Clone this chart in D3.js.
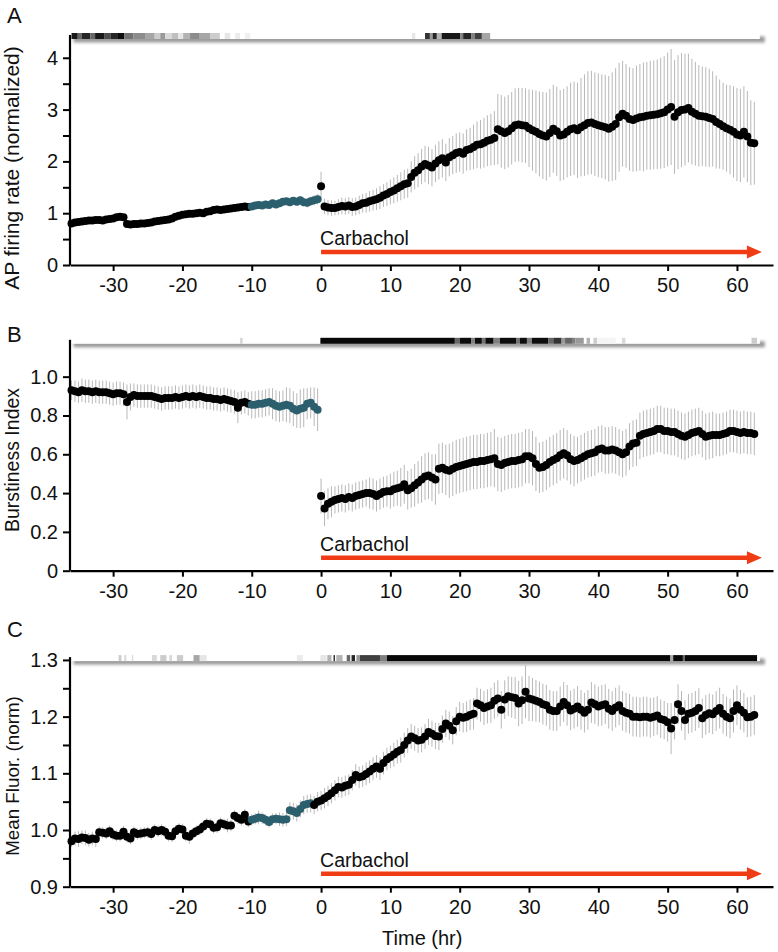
<!DOCTYPE html>
<html><head><meta charset="utf-8">
<script src="https://cdn.jsdelivr.net/npm/d3@7"></script>
<style>
body{margin:0;background:#fff}
svg{display:block}
text{font-family:"Liberation Sans",Arial,Helvetica,sans-serif;fill:#111}
</style>
</head><body>
<svg id="chart" width="778" height="952"></svg>
<script>
// ---------------- DATA ----------------
const timeStart = -36, timeStep = 0.5;   // hours, one sample per 30 min

const firingRate = [
0.80,0.82,0.83,0.84,0.85,0.86,0.86,0.87,0.87,0.86,
0.88,0.89,0.90,0.92,0.93,0.92,0.79,0.78,0.79,0.79,
0.80,0.80,0.81,0.82,0.84,0.85,0.86,0.87,0.88,0.90,
0.93,0.95,0.97,0.98,0.99,0.99,1.00,1.01,1.00,1.03,
1.04,1.06,1.07,1.06,1.07,1.08,1.09,1.10,1.11,1.12,
1.13,1.12,1.13,1.15,1.16,1.15,1.17,1.16,1.19,1.17,
1.19,1.22,1.23,1.21,1.24,1.22,1.25,1.21,1.20,1.23,
1.25,1.27,1.52,1.13,1.11,1.10,1.10,1.12,1.14,1.13,
1.15,1.12,1.13,1.16,1.19,1.20,1.23,1.25,1.27,1.30,
1.34,1.37,1.41,1.44,1.48,1.52,1.56,1.58,1.70,1.78,
1.83,1.90,1.95,1.92,1.88,1.96,2.02,2.06,1.98,2.08,
2.12,2.16,2.18,2.15,2.22,2.24,2.28,2.32,2.33,2.36,
2.40,2.42,2.45,2.62,2.58,2.55,2.58,2.64,2.70,2.71,
2.70,2.69,2.64,2.60,2.57,2.53,2.50,2.48,2.55,2.63,
2.58,2.50,2.52,2.57,2.62,2.64,2.60,2.66,2.70,2.74,
2.75,2.72,2.70,2.68,2.66,2.63,2.67,2.72,2.85,2.92,
2.88,2.82,2.80,2.83,2.85,2.86,2.88,2.89,2.90,2.91,
2.93,2.95,3.00,3.05,2.86,2.95,2.99,3.00,3.03,2.96,
2.92,2.88,2.87,2.86,2.84,2.82,2.76,2.72,2.68,2.64,
2.61,2.57,2.52,2.50,2.57,2.48,2.36,2.35];
const firingErr = [
0.02,0.02,0.02,0.02,0.02,0.02,0.02,0.02,0.02,0.02,
0.02,0.02,0.02,0.02,0.02,0.02,0.02,0.02,0.02,0.02,
0.02,0.02,0.02,0.02,0.02,0.02,0.02,0.02,0.02,0.02,
0.02,0.02,0.02,0.02,0.02,0.02,0.02,0.02,0.02,0.02,
0.02,0.02,0.02,0.02,0.02,0.02,0.02,0.02,0.02,0.02,
0.02,0.02,0.03,0.03,0.03,0.03,0.04,0.04,0.04,0.04,
0.05,0.05,0.05,0.06,0.06,0.07,0.08,0.08,0.09,0.09,
0.10,0.10,0.28,0.15,0.15,0.15,0.14,0.15,0.16,0.16,
0.16,0.17,0.17,0.18,0.18,0.19,0.20,0.20,0.21,0.22,
0.22,0.23,0.24,0.25,0.26,0.27,0.28,0.28,0.30,0.32,
0.33,0.34,0.35,0.36,0.36,0.36,0.37,0.37,0.36,0.37,
0.37,0.38,0.38,0.39,0.40,0.41,0.43,0.45,0.47,0.48,
0.49,0.50,0.52,0.68,0.70,0.70,0.70,0.70,0.71,0.71,
0.72,0.72,0.75,0.78,0.80,0.82,0.84,0.85,0.85,0.85,
0.86,0.88,0.88,0.88,0.90,0.90,0.92,0.95,0.98,1.00,
1.00,1.00,1.00,1.00,1.01,1.02,1.05,1.08,1.05,1.02,
1.00,1.00,1.00,1.02,1.03,1.05,1.04,1.05,1.05,1.06,
1.07,1.08,1.10,1.12,1.10,1.10,1.10,1.08,1.05,1.02,
1.00,0.98,0.96,0.96,0.95,0.92,0.90,0.86,0.84,0.84,
0.86,0.88,0.90,0.90,0.88,0.88,0.82,0.80];

const burstIndex = [
0.93,0.925,0.92,0.93,0.925,0.925,0.92,0.925,0.92,0.92,
0.92,0.915,0.91,0.915,0.915,0.91,0.87,0.895,0.905,0.90,
0.90,0.90,0.90,0.90,0.895,0.89,0.885,0.89,0.89,0.89,
0.895,0.89,0.895,0.90,0.895,0.90,0.895,0.90,0.895,0.89,
0.89,0.885,0.885,0.88,0.885,0.88,0.875,0.87,0.84,0.865,
0.87,0.86,0.855,0.855,0.86,0.86,0.865,0.87,0.86,0.85,
0.845,0.85,0.855,0.85,0.835,0.825,0.835,0.84,0.86,0.865,
0.845,0.83,0.385,0.32,0.345,0.355,0.365,0.37,0.375,0.37,
0.38,0.375,0.385,0.39,0.395,0.40,0.40,0.395,0.385,0.395,
0.405,0.41,0.41,0.42,0.425,0.43,0.445,0.415,0.425,0.44,
0.455,0.47,0.485,0.49,0.48,0.47,0.525,0.53,0.52,0.515,
0.525,0.535,0.54,0.545,0.55,0.555,0.56,0.56,0.565,0.565,
0.57,0.575,0.58,0.55,0.545,0.555,0.56,0.565,0.565,0.57,
0.575,0.59,0.59,0.58,0.55,0.53,0.535,0.545,0.56,0.57,
0.58,0.595,0.605,0.595,0.575,0.565,0.57,0.58,0.59,0.60,
0.605,0.61,0.625,0.63,0.62,0.62,0.625,0.62,0.61,0.60,
0.61,0.64,0.655,0.66,0.695,0.705,0.71,0.715,0.72,0.73,
0.73,0.72,0.72,0.715,0.715,0.705,0.695,0.69,0.70,0.71,
0.715,0.72,0.705,0.69,0.695,0.70,0.70,0.70,0.705,0.71,
0.72,0.72,0.715,0.71,0.715,0.71,0.71,0.705];
const burstErr = [
0.05,0.055,0.055,0.06,0.06,0.06,0.06,0.06,0.06,0.06,
0.06,0.06,0.06,0.06,0.06,0.06,0.09,0.07,0.06,0.06,
0.06,0.06,0.06,0.06,0.06,0.06,0.06,0.06,0.06,0.06,
0.06,0.06,0.06,0.06,0.06,0.06,0.06,0.06,0.06,0.06,
0.06,0.06,0.06,0.06,0.06,0.06,0.06,0.06,0.08,0.06,
0.06,0.06,0.07,0.07,0.07,0.07,0.07,0.07,0.08,0.08,
0.08,0.08,0.09,0.09,0.09,0.09,0.10,0.10,0.08,0.08,
0.10,0.11,0.09,0.09,0.08,0.08,0.07,0.07,0.07,0.07,
0.07,0.07,0.07,0.07,0.07,0.07,0.08,0.08,0.08,0.08,
0.08,0.08,0.09,0.09,0.09,0.10,0.10,0.10,0.10,0.11,
0.11,0.12,0.12,0.12,0.12,0.13,0.13,0.13,0.13,0.14,
0.14,0.14,0.14,0.14,0.14,0.14,0.14,0.14,0.14,0.14,
0.14,0.14,0.15,0.14,0.14,0.14,0.14,0.14,0.14,0.14,
0.14,0.14,0.14,0.14,0.14,0.13,0.13,0.13,0.13,0.13,
0.13,0.13,0.13,0.13,0.13,0.13,0.12,0.12,0.12,0.12,
0.12,0.12,0.12,0.12,0.12,0.12,0.12,0.12,0.12,0.12,
0.12,0.12,0.12,0.12,0.12,0.12,0.12,0.12,0.12,0.12,
0.12,0.12,0.12,0.12,0.12,0.12,0.12,0.12,0.12,0.12,
0.12,0.12,0.12,0.12,0.12,0.12,0.11,0.11,0.11,0.11,
0.11,0.11,0.11,0.11,0.11,0.11,0.11,0.11];

const meanFluor = [
0.980,0.985,0.984,0.987,0.986,0.983,0.985,0.984,0.996,0.995,
0.994,0.998,0.992,0.990,0.990,0.997,0.988,0.985,0.996,0.993,
0.994,0.995,0.996,0.993,1.000,0.998,1.000,0.997,0.990,0.989,
0.998,1.002,1.001,0.990,0.988,0.994,0.998,1.001,1.006,1.011,
1.010,1.004,1.005,1.012,1.010,1.008,1.008,1.025,1.021,1.018,
1.027,1.015,1.018,1.020,1.022,1.021,1.018,1.014,1.019,1.020,
1.019,1.018,1.019,1.035,1.033,1.030,1.037,1.044,1.046,1.047,
1.044,1.050,1.052,1.056,1.060,1.065,1.070,1.076,1.075,1.078,
1.080,1.088,1.097,1.093,1.095,1.099,1.103,1.108,1.112,1.108,
1.118,1.125,1.129,1.133,1.138,1.141,1.150,1.158,1.165,1.162,
1.158,1.159,1.165,1.173,1.170,1.166,1.165,1.178,1.188,1.184,
1.176,1.192,1.200,1.198,1.200,1.203,1.205,1.223,1.220,1.215,
1.218,1.220,1.228,1.232,1.212,1.230,1.236,1.234,1.233,1.223,
1.229,1.244,1.232,1.230,1.228,1.226,1.222,1.220,1.212,1.210,
1.210,1.218,1.226,1.220,1.211,1.214,1.218,1.212,1.207,1.212,
1.225,1.222,1.218,1.220,1.222,1.214,1.210,1.216,1.220,1.210,
1.207,1.205,1.200,1.200,1.199,1.200,1.200,1.198,1.200,1.202,
1.196,1.194,1.190,1.179,1.194,1.222,1.210,1.194,1.205,1.207,
1.210,1.215,1.197,1.203,1.206,1.204,1.210,1.215,1.205,1.200,
1.197,1.210,1.220,1.212,1.207,1.199,1.200,1.203];
const fluorErr = [
0.010,0.012,0.014,0.012,0.013,0.012,0.012,0.014,0.010,0.010,
0.010,0.010,0.010,0.010,0.010,0.010,0.010,0.010,0.010,0.010,
0.010,0.010,0.010,0.010,0.010,0.010,0.010,0.010,0.010,0.010,
0.010,0.010,0.010,0.010,0.012,0.010,0.010,0.010,0.010,0.010,
0.010,0.010,0.010,0.010,0.010,0.012,0.010,0.010,0.010,0.010,
0.010,0.010,0.010,0.010,0.012,0.010,0.010,0.010,0.010,0.010,
0.012,0.012,0.012,0.014,0.015,0.015,0.015,0.016,0.016,0.016,
0.016,0.017,0.017,0.018,0.018,0.018,0.018,0.018,0.018,0.018,
0.018,0.018,0.019,0.019,0.019,0.020,0.020,0.020,0.020,0.020,
0.020,0.020,0.020,0.021,0.021,0.022,0.022,0.022,0.022,0.022,
0.022,0.022,0.022,0.023,0.023,0.023,0.024,0.024,0.024,0.025,
0.025,0.025,0.026,0.026,0.027,0.027,0.028,0.028,0.029,0.030,
0.030,0.031,0.032,0.032,0.033,0.034,0.035,0.036,0.037,0.040,
0.042,0.047,0.040,0.038,0.037,0.036,0.036,0.036,0.035,0.035,
0.035,0.035,0.035,0.036,0.035,0.035,0.036,0.035,0.035,0.035,
0.036,0.035,0.035,0.036,0.035,0.035,0.035,0.035,0.035,0.035,
0.035,0.035,0.035,0.035,0.035,0.035,0.035,0.035,0.034,0.034,
0.034,0.034,0.034,0.045,0.034,0.035,0.035,0.035,0.035,0.035,
0.035,0.035,0.035,0.035,0.035,0.035,0.035,0.036,0.035,0.035,
0.035,0.038,0.035,0.035,0.035,0.035,0.035,0.035];

// grayscale activity strips on top of each panel: [start hr, end hr, darkness 0..1]
const stripA = [[-36,-35.1,0.9],[-35.1,-34.5,0.6],[-34.5,-33.3,0.85],[-33.3,-32.6,0.6],[-32.6,-31.3,0.9],[-31.3,-30.4,0.7],[-30.4,-29.3,0.85],[-29.3,-28.4,0.95],[-28.4,-27.1,0.55],[-27.1,-25.4,0.45],[-25.4,-24.0,0.35],[-24.0,-23.2,0.2],[-23.2,-22.5,0.4],[-22.5,-21.5,0.15],[-21.5,-20.6,0.25],[-20.6,-19.9,0.1],[-19.9,-18.9,0.3],[-18.9,-17.5,0.45],[-17.5,-16.0,0.35],[-16.0,-14.6,0.2],[-13.9,-13.1,0.1],[-12.4,-11.7,0.08],[-11.0,-10.2,0.06],
[13.1,13.6,0.1],[15.0,15.7,0.8],[15.7,16.1,0.4],[16.1,16.7,0.85],[16.7,17.4,0.3],[17.4,20.1,0.9],[20.1,20.5,0.5],[20.5,21.7,0.85],[21.7,22.2,0.5],[22.2,23.2,0.75],[23.2,24.4,0.35]];
const stripB = [[-11.7,-11.3,0.15],[-0.1,19.3,0.97],[19.3,20.0,0.6],[20.0,21.7,0.95],[21.7,22.2,0.5],[22.2,23.2,0.95],[23.2,23.7,0.55],[23.7,24.9,0.95],[24.9,25.8,0.5],[25.8,28.2,0.95],[28.2,28.7,0.55],[28.7,29.7,0.95],[29.7,30.4,0.5],[30.4,32.8,0.95],[32.8,33.5,0.6],[33.5,34.7,0.8],[34.7,35.2,0.4],[35.2,36.2,0.6],[36.2,36.7,0.5],[36.7,37.9,0.4],[38.3,38.8,0.3],[39.3,39.8,0.2],[39.8,42.5,0.04],[43.4,43.9,0.15],[62.1,62.9,0.2]];
const stripC = [[-29.2,-28.8,0.2],[-28.4,-28.1,0.15],[-27.3,-27.1,0.15],[-24.4,-23.7,0.15],[-23.2,-22.3,0.2],[-21.9,-21.5,0.15],[-20.8,-19.9,0.2],[-18.4,-17.5,0.35],[-17.5,-16.5,0.1],[-3.5,-2.6,0.08],[-0.1,0.8,0.1],[0.9,1.5,0.3],[1.8,2.0,0.85],[2.2,3.1,0.3],[3.7,4.2,0.6],[4.4,4.9,0.85],[5.1,5.6,0.4],[5.6,8.5,0.75],[8.5,9.5,0.5],[9.5,50.4,0.97],[50.4,50.8,0.35],[50.8,52.2,0.97],[52.2,52.5,0.6],[52.5,62.9,0.97]];

const xTicks = [-30,-20,-10,0,10,20,30,40,50,60];
const yTicksA = [0,1,2,3,4],      yMinorA = [0.5,1.5,2.5,3.5];
const yTicksB = [0,0.2,0.4,0.6,0.8,1.0], yMinorB = [];
const yTicksC = [0.9,1.0,1.1,1.2,1.3], yMinorC = [0.95,1.05,1.15,1.25];
const tealWindowAB = [-10,-0.5], tealWindowC = [-10,-1.5];
const drugLabel = "Carbachol", drugStart = 0, drugEnd = 63.6;

// ---------------- DRAW ----------------
const svg = d3.select("#chart");
const x = d3.scaleLinear().domain([-36.22, 65.2]).range([70, 773]);
const hyphenInt = d => String(Math.round(d));   // plain hyphen-minus, as in the original

const defs = svg.append("defs");
defs.append("filter").attr("id","blur").attr("x","-5%").attr("y","-100%").attr("width","110%").attr("height","300%")
  .append("feGaussianBlur").attr("stdDeviation", 1.7);

const panels = [
  {letter:"A", title:"AP firing rate (normalized)", tsize:21, tmid:168, vals:firingRate, errs:firingErr, domain:[0,4.44], range:[265,35],
   ticks:yTicksA, minor:yMinorA, fmt:hyphenInt, strip:stripA, teal:tealWindowAB, letterY:23},
  {letter:"B", title:"Burstiness Index", tsize:19.5, tmid:460, vals:burstIndex, errs:burstErr, domain:[0,1.19], range:[570.7,339.8],
   ticks:yTicksB, minor:yMinorB, fmt:d=>d===0?"0":d.toFixed(1), strip:stripB, teal:tealWindowAB, letterY:342},
  {letter:"C", title:"Mean Fluor. (norm)", tsize:18.8, tmid:776, vals:meanFluor, errs:fluorErr, domain:[0.9,1.305], range:[886.7,657.1],
   ticks:yTicksC, minor:yMinorC, fmt:d=>d.toFixed(1), strip:stripC, teal:tealWindowC, letterY:637}
];

panels.forEach(p => {
  const y = d3.scaleLinear().domain(p.domain).range(p.range);
  const g = svg.append("g");
  const data = p.vals.map((v,i)=>({t: timeStart + i*timeStep, v, e: p.errs[i]}));

  // activity strip with drop shadow
  const barTop = y(p.domain[1]) - 2, barH = 6;
  const bx0 = x(-36), bx1 = x(63.3);
  g.append("rect").attr("x", bx0+2).attr("y", barTop+3.5).attr("width", bx1-bx0+3).attr("height", barH)
    .attr("fill","#9a9a9a").attr("filter","url(#blur)");
  g.append("rect").attr("x", bx0).attr("y", barTop).attr("width", bx1-bx0).attr("height", barH).attr("fill","#fff");
  g.selectAll("rect.cell").data(p.strip).join("rect").attr("class","cell")
    .attr("x", d=>x(d[0])).attr("width", d=>Math.max(1, x(d[1])-x(d[0])))
    .attr("y", barTop).attr("height", barH)
    .attr("fill", d=>{const c=Math.round(255*(1-d[2])); return `rgb(${c},${c},${c})`;});

  // error bars
  g.selectAll("line.err").data(data).join("line").attr("class","err")
    .attr("x1", d=>x(d.t)).attr("x2", d=>x(d.t))
    .attr("y1", d=>y(d.v - d.e)).attr("y2", d=>y(d.v + d.e))
    .attr("stroke","#b8b8b8").attr("stroke-width",1);

  // points
  g.selectAll("circle").data(data).join("circle")
    .attr("cx", d=>x(d.t)).attr("cy", d=>y(d.v)).attr("r", 4)
    .attr("fill", d=> (d.t>=p.teal[0] && d.t<=p.teal[1]) ? "#2c5f6e" : "#000");

  // drug arrow
  const ay = y(p.domain[0]) - 13;
  g.append("line").attr("x1", x(drugStart)).attr("x2", x(drugEnd)-12).attr("y1", ay).attr("y2", ay)
    .attr("stroke","#f03c14").attr("stroke-width",4.5);
  const tip = x(drugEnd);
  g.append("path").attr("d", `M${tip},${ay} L${tip-15},${ay-6.5} L${tip-15},${ay+6.5} Z`).attr("fill","#f03c14");
  g.append("text").attr("x", x(drugStart)-1).attr("y", ay-7).attr("font-size", 19.5).text(drugLabel);

  // axes
  const yAxis = d3.axisLeft(y).tickValues(p.ticks).tickFormat(p.fmt).tickSize(7).tickSizeOuter(0).tickPadding(5);
  const ya = g.append("g").attr("transform","translate(70,0)").call(yAxis);
  ya.select(".domain").attr("d", `M0,${y(p.domain[0])}V${p.range[1]}`);
  const ym = g.append("g").attr("transform","translate(70,0)")
    .call(d3.axisLeft(y).tickValues(p.minor).tickFormat("").tickSize(7).tickSizeOuter(0));
  ym.select(".domain").remove();

  const xa = g.append("g").attr("transform", `translate(0,${y(p.domain[0])})`)
    .call(d3.axisBottom(x).tickValues(xTicks).tickFormat(hyphenInt).tickSize(6).tickSizeOuter(0).tickPadding(7));
  [ya, ym, xa].forEach(a => {
    a.selectAll(".domain").attr("stroke","#000").attr("stroke-width",2.2);
    a.selectAll(".tick line").attr("stroke","#000").attr("stroke-width",2);
    a.selectAll(".tick text").attr("font-size", 20).attr("font-family","Liberation Sans, Arial, sans-serif").attr("fill","#111");
  });

  // titles
  g.append("text").attr("transform", `translate(19,${p.tmid}) rotate(-90)`).attr("text-anchor","middle")
    .attr("font-size", p.tsize).text(p.title);
  g.append("text").attr("x", 7).attr("y", p.letterY).attr("font-size", 22).text(p.letter);
});

svg.append("text").attr("x", x(14.6)).attr("y", 945).attr("text-anchor","middle").attr("font-size", 20).text("Time (hr)");
</script>
</body></html>
